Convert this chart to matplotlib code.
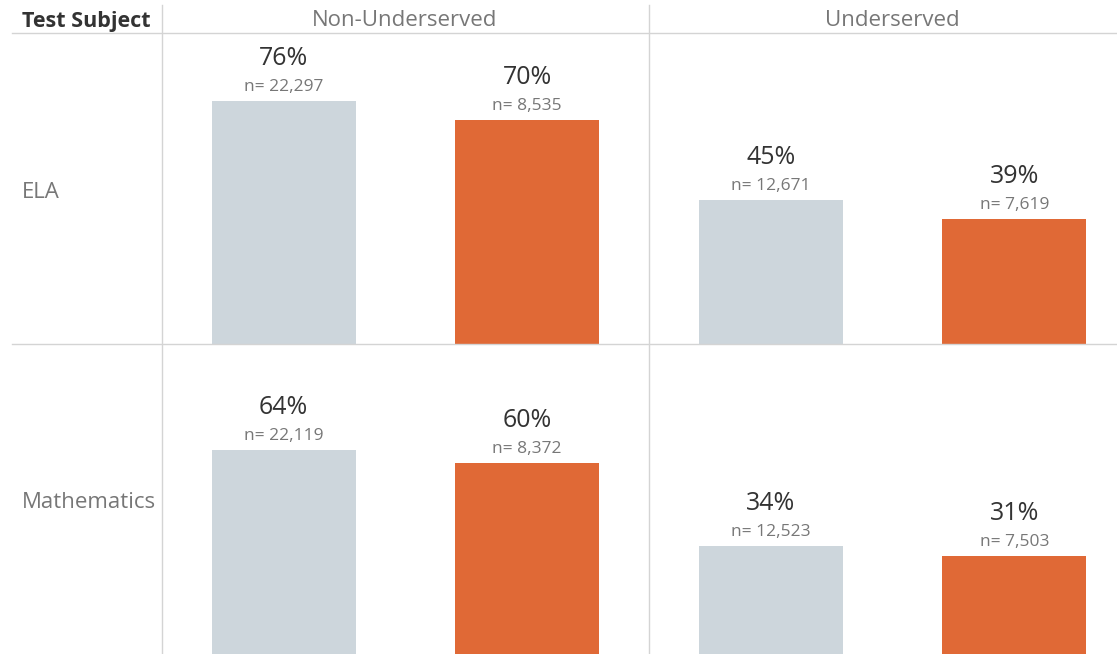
import matplotlib
matplotlib.use("Agg")
from matplotlib import pyplot as plt
from matplotlib.lines import Line2D

plt.rcParams['font.family'] = ['Open Sans', 'DejaVu Sans']

subjects = ["ELA", "Mathematics"]
groups = ["Non-Underserved", "Underserved"]
# percent values per subject, per group: [gray bar, orange bar]
ela_pct = [[76, 70], [45, 39]]
ela_n = [["22,297", "8,535"], ["12,671", "7,619"]]
math_pct = [[64, 60], [34, 31]]
math_n = [["22,119", "8,372"], ["12,523", "7,503"]]
bar_colors = ["#cdd6dc", "#e06936"]

W, H = 1117, 654
fig = plt.figure(figsize=(W / 100, H / 100), dpi=100)


def fx(px):
    return px / W


def fy(py):
    return 1 - py / H


line_c = "#d4d4d4"
# grid lines
fig.add_artist(Line2D([fx(12), 1], [fy(33), fy(33)], color=line_c, lw=1))
fig.add_artist(Line2D([fx(12), 1], [fy(344), fy(344)], color=line_c, lw=1))
fig.add_artist(Line2D([fx(162), fx(162)], [fy(5), 0], color=line_c, lw=1))
fig.add_artist(Line2D([fx(649), fx(649)], [fy(5), 0], color=line_c, lw=1))

# headers
fig.text(fx(22), fy(21), "Test Subject", fontsize=15.5, fontweight="bold",
         color="#333333", va="center", ha="left")
fig.text(fx(405), fy(21), groups[0], fontsize=16, color="#777777",
         va="center", ha="center")
fig.text(fx(892), fy(21), groups[1], fontsize=16, color="#777777",
         va="center", ha="center")
fig.text(fx(22), fy(192), subjects[0], fontsize=16, color="#777777",
         va="center", ha="left")
fig.text(fx(22), fy(502), subjects[1], fontsize=16, color="#777777",
         va="center", ha="left")

rows = [(ela_pct, ela_n, 33, 344), (math_pct, math_n, 344, 655)]
cols = [(162, 649), (649, 1117)]
col_w = 487.0
for pct, nn, top, bot in rows:
    for gi, (x0, x1) in enumerate(cols):
        ax = fig.add_axes([fx(x0), fy(bot), fx(x1 - x0), (bot - top) / H])
        ax.set_xlim(-0.5, -0.5 + 2 * (x1 - x0) / col_w)
        ax.set_ylim(0, (bot - top) / 3.2)
        ax.axis("off")
        xs = [0, 1]
        bars = ax.bar(xs, pct[gi], width=0.59, color=bar_colors)
        for b, v, n in zip(bars, pct[gi], nn[gi]):
            cx = b.get_x() + b.get_width() / 2
            ax.annotate("%d%%" % v, (cx, v), xytext=(0, 30.5),
                        textcoords="offset points", ha="center", va="center",
                        fontsize=18, color="#333333", annotation_clip=False)
            ax.annotate("n= " + n, (cx, v), xytext=(0, 10),
                        textcoords="offset points", ha="center", va="center",
                        fontsize=12.5, color="#777777", annotation_clip=False)

fig.savefig("out.png", dpi=100)
